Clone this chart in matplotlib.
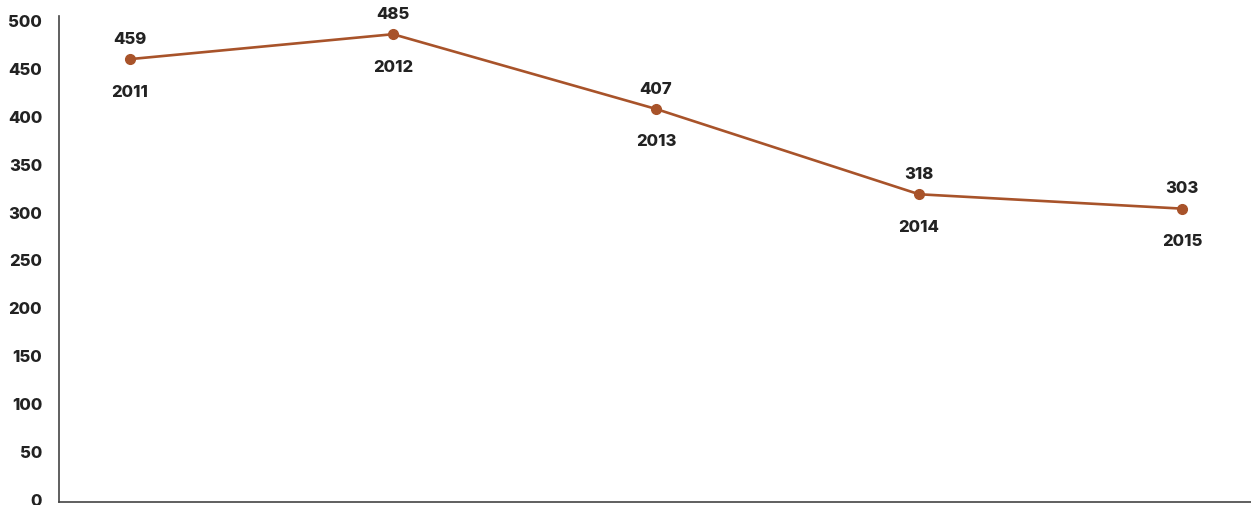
import matplotlib.pyplot as plt

plt.rcParams['font.family'] = ['Inter', 'DejaVu Sans']

years = ['2011', '2012', '2013', '2014', '2015']
values = [459, 485, 407, 318, 303]
yticks = [0, 50, 100, 150, 200, 250, 300, 350, 400, 450, 500]

line_color = '#A8532A'
text_color = '#222222'

fig = plt.figure(figsize=(12.51, 5.06), dpi=100)
ax = fig.add_axes([59 / 1251, 3 / 506, 1 - 59 / 1251, (503 - 17) / 506])

x = list(range(len(years)))
ax.plot(x, values, color=line_color, linewidth=1.9, marker='o', markersize=7, zorder=3)

for xi, v, yr in zip(x, values, years):
    ax.annotate(str(v), (xi, v), xytext=(0, 15), textcoords='offset points',
                ha='center', va='center', fontsize=12, fontweight='heavy', color=text_color)
    ax.annotate(yr, (xi, v), xytext=(0, -23), textcoords='offset points',
                ha='center', va='center', fontsize=12, fontweight='heavy', color=text_color)

ax.set_xlim(-0.27, 4.262)
ax.set_ylim(-3.1, 504)
ax.set_yticks(yticks)
ax.set_yticklabels([str(t) for t in yticks], fontsize=12, fontweight='heavy', color=text_color)
ax.set_xticks([])
ax.tick_params(axis='y', length=0, pad=12)

for side in ['top', 'right']:
    ax.spines[side].set_visible(False)
for side in ['left', 'bottom']:
    ax.spines[side].set_color('#444444')
    ax.spines[side].set_linewidth(1.2)

fig.savefig('out.png', dpi=100)
